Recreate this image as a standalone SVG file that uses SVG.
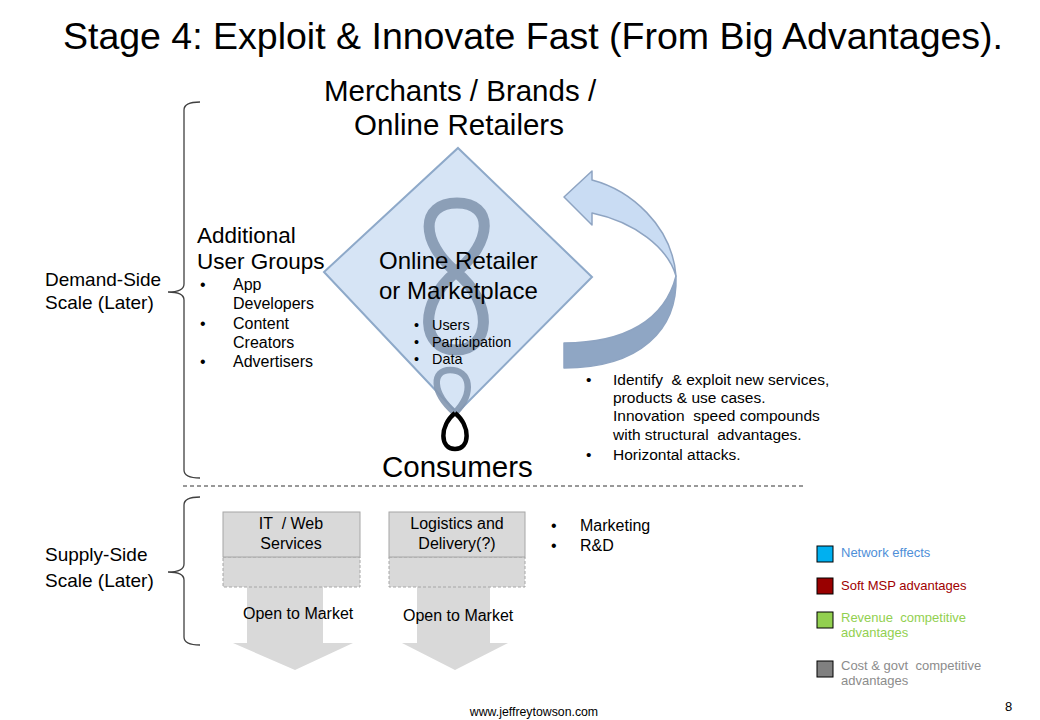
<svg xmlns="http://www.w3.org/2000/svg" width="1040" height="720" viewBox="0 0 1040 720">
<style>
text{font-family:"Liberation Sans",Arial,sans-serif;fill:#000}
.pre{white-space:pre}
.t14{font-size:14.4px}
.t15{font-size:15.5px}
.t16{font-size:16px}
.t19{font-size:19px}
.t13{font-size:13px}
.t22{font-size:22.5px}
.t24{font-size:24px}
.t29{font-size:29.5px}
.lg{font-size:13px}
.brace{fill:none;stroke:#404040;stroke-width:1.3}
.box{fill:#D9D9D9;stroke:#A6A6A6;stroke-width:1}
.boxd{fill:#D9D9D9;stroke:#A6A6A6;stroke-width:1;stroke-dasharray:3,2}
.garrow{fill:#D9D9D9}
.sq{stroke:#000;stroke-width:1}
</style>
<rect width="1040" height="720" fill="#fff"/>
<text x="533" y="49" font-size="37.5" text-anchor="middle">Stage 4: Exploit &amp; Innovate Fast (From Big Advantages).</text>

<g id="merchants">
<text x="460" y="101" class="t29" text-anchor="middle">Merchants / Brands /</text>
<text x="459" y="135" class="t29" text-anchor="middle">Online Retailers</text>
</g>

<g id="platform">
<polygon points="458,148 592,277 457,413 324,272" fill="#D6E4F5" stroke="#8EA9C9" stroke-width="2"/>
<path d="M456,272 C420,242 420,203 457,203 C494,203 493,242 456,272 C417,304 422,350 456,350 C490,350 495,304 456,272 Z" fill="none" stroke="#8497B0" stroke-width="11" stroke-opacity="0.9"/>
<path d="M455,413 C431,392 432,370 450,370 C470,370 475,392 455,413" fill="none" stroke="#8497B0" stroke-width="6.5" stroke-opacity="0.9"/>
<path d="M455,413 C439,426 440,449 455,449 C470,449 471,426 455,413" fill="none" stroke="#000" stroke-width="4.5"/>
<text x="379" y="269" class="t24">Online Retailer</text>
<text x="379" y="299" class="t24">or Marketplace</text>
<text x="414" y="330" class="t14">•</text><text x="432" y="330" class="t14">Users</text>
<text x="414" y="347" class="t14">•</text><text x="432" y="347" class="t14">Participation</text>
<text x="414" y="364" class="t14">•</text><text x="432" y="364" class="t14">Data</text>
</g>

<g id="user-groups">
<text x="197" y="243" class="t22">Additional</text>
<text x="197" y="269" class="t22">User Groups</text>
<text x="200" y="290" class="t16">•</text><text x="233" y="290" class="t16">App</text>
<text x="233" y="309" class="t16">Developers</text>
<text x="200" y="329" class="t16">•</text><text x="233" y="329" class="t16">Content</text>
<text x="233" y="348" class="t16">Creators</text>
<text x="200" y="367" class="t16">•</text><text x="233" y="367" class="t16">Advertisers</text>
</g>

<g id="demand-side">
<path class="brace" d="M200,102 Q184,102 184,110 L184,284 Q184,292 168,292 Q184,292 184,300 L184,470 Q184,478 200,478"/>
<text x="45" y="286" class="t19">Demand-Side</text>
<text x="45" y="309" class="t19">Scale (Later)</text>
</g>

<g id="consumers">
<text x="382" y="477" class="t29">Consumers</text>
</g>

<g id="innovation-notes">
<text x="586" y="385" class="t15">•</text><text x="613" y="385" class="t15 pre">Identify  &amp; exploit new services,</text>
<text x="613" y="403" class="t15">products &amp; use cases.</text>
<text x="613" y="421" class="t15 pre">Innovation  speed compounds</text>
<text x="613" y="440" class="t15 pre">with structural  advantages.</text>
<text x="586" y="460" class="t15">•</text><text x="613" y="460" class="t15">Horizontal attacks.</text>
</g>

<g id="supply-side">
<path class="brace" d="M200,497 Q184,497 184,505 L184,564 Q184,572 168,572 Q184,572 184,580 L184,637 Q184,645 200,645"/>
<text x="45" y="561" class="t19">Supply-Side</text>
<text x="45" y="587" class="t19">Scale (Later)</text>
</g>

<g id="connectors">
<line x1="183" y1="486" x2="805" y2="486" stroke="#333" stroke-width="1" stroke-dasharray="4,3"/>
<path d="M564,197 L592,171 L592,180 C630,190 672,225 676,276 C668,248 635,222 592,213 L592,225 Z" fill="#C9DCF3" stroke="#8EA4C2" stroke-width="1.5" stroke-linejoin="round"/>
<path d="M676,276 C678,330 640,368 564,368 L564,343 C625,343 665,320 676,276 Z" fill="#8FA6C4" stroke="#8EA4C2" stroke-width="1.5" stroke-linejoin="round"/>
<polygon class="garrow" points="247,587 323,587 323,643 353,643 295,670 233,643 247,643"/>
<polygon class="garrow" points="417,587 490,587 490,643 508,643 455,670 402,643 417,643"/>
</g>

<g id="it-web">
<rect class="boxd" x="223" y="557" width="137" height="30"/>
<rect class="box" x="223" y="512" width="137" height="45"/>
<text x="291" y="529" class="t16 pre" text-anchor="middle">IT  / Web</text>
<text x="291" y="549" class="t16" text-anchor="middle">Services</text>
<text x="243" y="619" class="t16">Open to Market</text>
</g>

<g id="logistics">
<rect class="boxd" x="389" y="557" width="136" height="30"/>
<rect class="box" x="389" y="512" width="136" height="45"/>
<text x="457" y="529" class="t16" text-anchor="middle">Logistics and</text>
<text x="457" y="549" class="t16" text-anchor="middle">Delivery(?)</text>
<text x="403" y="621" class="t16">Open to Market</text>
</g>

<g id="supply-notes">
<text x="551" y="531" class="t16">•</text><text x="580" y="531" class="t16">Marketing</text>
<text x="551" y="551" class="t16">•</text><text x="580" y="551" class="t16">R&amp;D</text>
</g>

<g id="legend">
<rect class="sq" x="817" y="546" width="16" height="16" fill="#00B0F0"/>
<text x="841" y="557" class="lg" style="fill:#4F8FD8">Network effects</text>
<rect class="sq" x="817" y="578" width="16" height="16" fill="#990000"/>
<text x="841" y="590" class="lg" style="fill:#A00000">Soft MSP advantages</text>
<rect class="sq" x="817" y="612" width="16" height="16" fill="#92D050"/>
<text x="841" y="622" class="lg pre" style="fill:#92D050">Revenue  competitive</text>
<text x="841" y="637" class="lg" style="fill:#92D050">advantages</text>
<rect class="sq" x="817" y="661" width="16" height="16" fill="#808080"/>
<text x="841" y="670" class="lg pre" style="fill:#8C8C8C">Cost &amp; govt  competitive</text>
<text x="841" y="685" class="lg" style="fill:#8C8C8C">advantages</text>
</g>

<g id="footer">
<text x="534" y="716" font-size="12.3" text-anchor="middle">www.jeffreytowson.com</text>
<text x="1005" y="711" class="t13">8</text>
</g>
</svg>
